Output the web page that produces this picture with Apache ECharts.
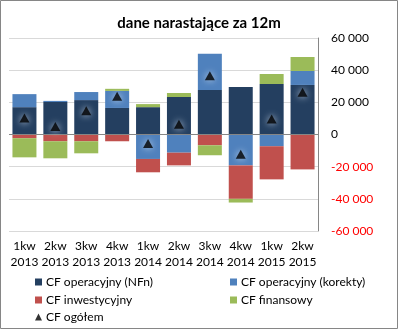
<!DOCTYPE html>
<html><head><meta charset="utf-8">
<script src="https://cdn.jsdelivr.net/npm/echarts@6/dist/echarts.min.js"></script>
<style>html,body{margin:0;padding:0;background:#fff}#c{width:398px;height:330px}</style>
</head><body><div id="c"></div>
<script>
const categories = ['1kw\n2013','2kw\n2013','3kw\n2013','4kw\n2013','1kw\n2014','2kw\n2014','3kw\n2014','4kw\n2014','1kw\n2015','2kw\n2015'];
const cfNfn     = [17000, 20200, 21400, 16500, 17000, 23300, 27700, 29600, 31400, 30800];
const cfKorekty = [8100, 700, 5000, 10600, -15200, -11300, 22500, -19200, -7300, 8700];
const cfInwest  = [-2300, -4200, -4200, -4200, -8300, -7900, -6700, -20800, -20600, -21700];
const cfFinans  = [-11900, -10600, -7500, 1300, 1900, 2500, -6200, -2300, 6200, 8700];
const cfOgolem  = [10200, 5000, 14800, 23800, -5600, 6400, 36600, -12300, 9600, 26300];
const yMin = -60000, yMax = 60000, yStep = 20000;

const FONT = 'Lato, "Open Sans", sans-serif';
const chart = echarts.init(document.getElementById('c'));
function bar(name, data, color) {
  return { name, type: 'bar', stack: 'cf', data, barWidth: 24,
    itemStyle: { color }, emphasis: { disabled: true } };
}
const series = [
  bar('CF operacyjny (NFn)', cfNfn, '#243F60'),
  bar('CF operacyjny (korekty)', cfKorekty, '#4F81BD'),
  bar('CF inwestycyjny', cfInwest, '#C0504D'),
  bar('CF finansowy', cfFinans, '#9BBB59'),
  { name: 'CF ogółem', type: 'scatter', data: cfOgolem, symbol: 'triangle', symbolSize: [10, 9], z: 5,
    itemStyle: { color: '#000', shadowColor: 'rgba(225,235,248,1)', shadowBlur: 7 } }
];
series[0].markLine = { silent: true, symbol: 'none', label: { show: false },
  lineStyle: { color: '#868686', type: 'solid', width: 1 }, data: [{ yAxis: 0 }] };

function leg(name, icon, left, top) {
  return { left, top, itemWidth: 7, itemHeight: 7, itemGap: 0, padding: 0, selectedMode: false,
    data: [{ name, icon }],
    textStyle: { fontFamily: FONT, fontSize: 12, color: '#000', padding: [0, 0, 0, -1] } };
}

chart.setOption({
  animation: false,
  title: { text: 'dane narastające za 12m', left: 'center', top: 11,
    textStyle: { fontFamily: FONT, fontSize: 15, fontWeight: 'bold', color: '#000' } },
  grid: { left: 9, right: 80, top: 38, bottom: 99, containLabel: false },
  graphic: [{ type: 'rect', shape: { x: 0.5, y: 0.5, width: 397, height: 328 },
    style: { fill: 'none', stroke: '#868686', lineWidth: 1 }, silent: true }],
  legend: [
    leg('CF operacyjny (NFn)', 'rect', 35, 276),
    leg('CF operacyjny (korekty)', 'rect', 230, 276),
    leg('CF inwestycyjny', 'rect', 35, 294),
    leg('CF finansowy', 'rect', 230, 294),
    leg('CF ogółem', 'triangle', 35, 311)
  ],
  xAxis: { type: 'category', data: categories,
    axisLine: { show: false, onZero: false }, axisTick: { show: false },
    axisLabel: { interval: 0, fontFamily: FONT, fontSize: 12, color: '#000', lineHeight: 16, margin: 7 } },
  yAxis: { type: 'value', position: 'right', min: yMin, max: yMax, interval: yStep,
    axisLine: { show: true, lineStyle: { color: '#868686' } }, axisTick: { show: false },
    splitLine: { lineStyle: { color: '#D9D9D9' } },
    axisLabel: { margin: 13, fontFamily: FONT, fontSize: 12,
      formatter: v => { const s = Math.abs(v).toString().replace(/\B(?=(\d{3})+(?!\d))/g, ' ');
        return v < 0 ? '{n|-' + s + '}' : '{p|' + s + '}'; },
      rich: { n: { color: '#FF0000', fontFamily: FONT, fontSize: 12 }, p: { color: '#000', fontFamily: FONT, fontSize: 12 } } } },
  series
});
</script></body></html>
